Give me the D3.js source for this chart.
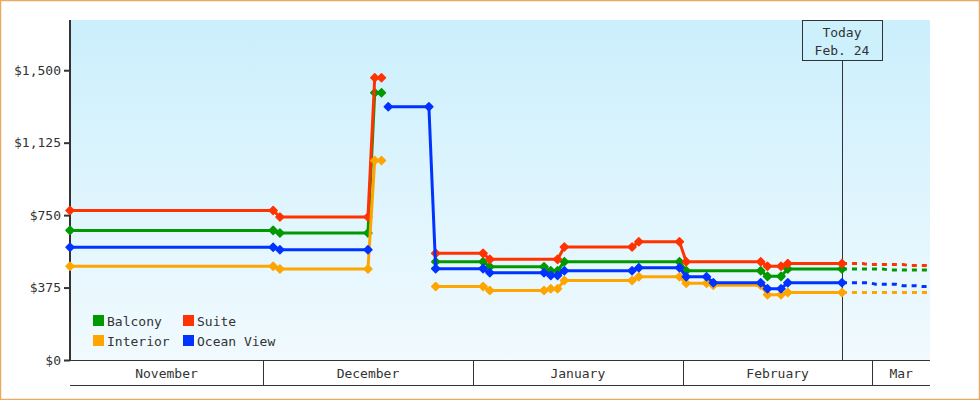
<!DOCTYPE html>
<html><head><meta charset="utf-8">
<script src="https://cdn.jsdelivr.net/npm/d3@7"></script>
<style>
body{margin:0;background:#fff}
svg{display:block}
text{font-family:"DejaVu Sans Mono",monospace;font-size:13px;fill:#333}
</style>
</head><body><svg id="c" width="980" height="400"></svg>
<script>
// ---------- data ----------
const seriesNames = ["Balcony", "Suite", "Interior", "Ocean View"];

const balconyDates = ["2013-11-02","2013-12-02","2013-12-03","2013-12-16","2013-12-17","2013-12-18","2013-12-22","2013-12-26","2014-01-02","2014-01-03","2014-01-11","2014-01-12","2014-01-13","2014-01-14","2014-01-31","2014-02-01","2014-02-12","2014-02-13","2014-02-15","2014-02-16","2014-02-24"];
const balconyValues = [671,671,657,657,1383,1383,null,509,509,483,483,462,462,509,509,462,462,433,433,471,471];

const suiteDates = ["2013-11-02","2013-12-02","2013-12-03","2013-12-16","2013-12-17","2013-12-18","2013-12-22","2013-12-26","2014-01-02","2014-01-03","2014-01-13","2014-01-14","2014-01-24","2014-01-25","2014-01-31","2014-02-01","2014-02-12","2014-02-13","2014-02-15","2014-02-16","2014-02-24"];
const suiteValues = [774,774,740,740,1461,1461,null,552,552,521,521,585,585,612,612,509,509,485,485,499,499];

const interiorDates = ["2013-11-02","2013-12-02","2013-12-03","2013-12-16","2013-12-17","2013-12-18","2013-12-22","2013-12-26","2014-01-02","2014-01-03","2014-01-11","2014-01-12","2014-01-13","2014-01-14","2014-01-24","2014-01-25","2014-01-31","2014-02-01","2014-02-04","2014-02-05","2014-02-12","2014-02-13","2014-02-15","2014-02-16","2014-02-24"];
const interiorValues = [485,485,471,471,1033,1033,null,380,380,360,360,369,369,412,412,431,431,397,397,387,387,338,338,349,349];

const oceanDates = ["2013-11-02","2013-12-02","2013-12-03","2013-12-16","2013-12-17","2013-12-19","2013-12-25","2013-12-26","2014-01-02","2014-01-03","2014-01-11","2014-01-12","2014-01-13","2014-01-14","2014-01-24","2014-01-25","2014-01-31","2014-02-01","2014-02-04","2014-02-05","2014-02-12","2014-02-13","2014-02-15","2014-02-16","2014-02-24"];
const oceanValues = [584,584,571,571,null,1311,1311,473,473,452,452,438,438,462,462,478,478,431,431,400,400,369,369,400,400];

// projected prices (dashed), daily from today to the end of the axis
const projDates = ["2014-02-24","2014-02-25","2014-02-26","2014-02-27","2014-02-28","2014-03-01","2014-03-02","2014-03-03","2014-03-04","2014-03-05","2014-03-06","2014-03-07","2014-03-08","2014-03-09"];
const balconyProj  = [471,471,471,471,471,471,471,466,466,466,466,466,466,466];
const suiteProj    = [499,499,499,499,494,494,494,494,494,494,489,489,489,489];
const interiorProj = [349,349,349,349,349,349,349,349,349,349,349,349,349,349];
const oceanProj    = [400,400,400,400,400,392,392,392,392,384,384,384,380,380];

const yTicks = [0, 375, 750, 1125, 1500];
const monthLabels = ["November", "December", "January", "February", "Mar"];
const axisStart = "2013-11-02";
const axisEnd = "2014-03-09";
const todayDate = "2014-02-24";
const todayLines = ["Today", "Feb. 24"];
const yMax = 1760;

// ---------- styles ----------
const colors = ["#009900", "#ff3300", "#ffa500", "#0033ff"];

// ---------- drawing ----------
const parse = s => d3.timeHour.offset(d3.timeParse("%Y-%m-%d")(s), 12);
const svg = d3.select("#c");
const L = 70, R = 930, T = 20, B = 360;

const x = d3.scaleTime().domain([parse(axisStart), parse(axisEnd)]).range([L, R]);
const y = d3.scaleLinear().domain([0, yMax]).range([B, T]);

const defs = svg.append("defs");
const grad = defs.append("linearGradient").attr("id", "bg").attr("x1", 0).attr("y1", 0).attr("x2", 0).attr("y2", 1);
grad.append("stop").attr("offset", "0%").attr("stop-color", "#cbeffd");
grad.append("stop").attr("offset", "100%").attr("stop-color", "#f1fafe");

svg.append("rect").attr("x", 0.5).attr("y", 0.5).attr("width", 979).attr("height", 399)
  .attr("fill", "#fff").attr("stroke", "#eba964").attr("stroke-width", 1.5);

svg.append("rect").attr("x", L).attr("y", T).attr("width", R - L).attr("height", B - T).attr("fill", "url(#bg)");

// y axis
const yAxis = svg.append("g").attr("transform", `translate(${L},0)`)
  .call(d3.axisLeft(y).tickValues(yTicks).tickFormat(d3.format("$,")).tickSize(6).tickPadding(3));
yAxis.select(".domain").remove();
yAxis.selectAll(".tick line").attr("stroke", "#333").attr("stroke-width", 2);
yAxis.selectAll(".tick text").attr("fill", "#333").style("font-family", "DejaVu Sans Mono").style("font-size", "13px");
svg.append("line").attr("x1", L).attr("x2", L).attr("y1", T).attr("y2", B + 1)
  .attr("stroke", "#333").attr("stroke-width", 2);

// x month band
const bounds = [x.domain()[0], ...d3.timeMonth.range(x.domain()[0], x.domain()[1]), x.domain()[1]];
svg.append("line").attr("x1", L).attr("x2", R).attr("y1", B + 0.5).attr("y2", B + 0.5).attr("stroke", "#333");
svg.append("line").attr("x1", L).attr("x2", R).attr("y1", B + 25.5).attr("y2", B + 25.5).attr("stroke", "#333");
bounds.slice(1, -1).forEach(d => {
  const px = Math.round(x(d)) + 0.5;
  svg.append("line").attr("x1", px).attr("x2", px).attr("y1", B).attr("y2", B + 25).attr("stroke", "#333");
});
monthLabels.forEach((lab, i) => {
  svg.append("text").attr("x", (x(bounds[i]) + x(bounds[i + 1])) / 2).attr("y", B + 18)
    .attr("text-anchor", "middle").text(lab);
});

// today marker
const tx = x(parse(todayDate));
svg.append("line").attr("x1", Math.round(tx) + 0.5).attr("x2", Math.round(tx) + 0.5).attr("y1", 60).attr("y2", B)
  .attr("stroke", "#333");
svg.append("rect").attr("x", Math.round(tx) - 39.5).attr("y", T + 0.5).attr("width", 80).attr("height", 40)
  .attr("fill", "#cdf0fd").attr("stroke", "#333");
todayLines.forEach((t, i) => {
  svg.append("text").attr("x", tx).attr("y", 37 + i * 18).attr("text-anchor", "middle").text(t);
});

// series
const series = [
  {dates: balconyDates, values: balconyValues, proj: balconyProj},
  {dates: suiteDates, values: suiteValues, proj: suiteProj},
  {dates: interiorDates, values: interiorValues, proj: interiorProj},
  {dates: oceanDates, values: oceanValues, proj: oceanProj}
];
const line = d3.line().defined(d => d.v != null).x(d => x(d.t)).y(d => y(d.v));
const diamond = "M0,-4L4,0L0,4L-4,0Z";

series.forEach((s, i) => {
  const pts = s.dates.map((d, j) => ({t: parse(d), v: s.values[j]}));
  const proj = projDates.map((d, j) => ({t: parse(d), v: s.proj[j]}));
  svg.append("path").datum(proj).attr("d", line).attr("fill", "none")
    .attr("stroke", colors[i]).attr("stroke-width", 3).attr("stroke-dasharray", "5,5");
});
series.forEach((s, i) => {
  const pts = s.dates.map((d, j) => ({t: parse(d), v: s.values[j]}));
  const g = svg.append("g");
  g.append("path").datum(pts).attr("d", line).attr("fill", "none")
    .attr("stroke", colors[i]).attr("stroke-width", 3).attr("stroke-linejoin", "round");
  g.selectAll("path.m").data(pts.filter(d => d.v != null)).join("path").attr("class", "m")
    .attr("d", diamond).attr("transform", d => `translate(${x(d.t)},${y(d.v)})`)
    .attr("fill", colors[i]).attr("stroke", colors[i]).attr("stroke-width", 1.5).attr("stroke-linejoin", "round");
});

// legend
const legend = svg.append("g");
seriesNames.forEach((n, i) => {
  const lx = 93 + (i % 2) * 90, ly = 315 + Math.floor(i / 2) * 20;
  legend.append("rect").attr("x", lx).attr("y", ly).attr("width", 11).attr("height", 11).attr("fill", colors[i]);
  legend.append("text").attr("x", lx + 14).attr("y", ly + 10.5).text(n);
});
</script>
</body></html>
